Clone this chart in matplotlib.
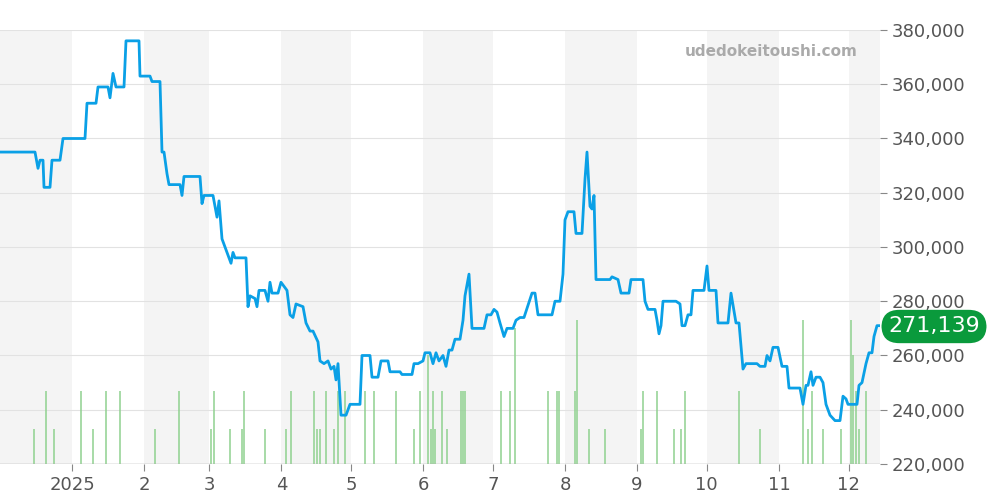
import matplotlib
matplotlib.use("Agg")
import matplotlib.pyplot as plt
import numpy as np

PX = 2.325
price_x = [0,35,38,40,43,44,50,52,60,63,85,87,96,98,108,110,113,116,124,126,139,140,150,152,160,162,164,167,169,180,182,184,200,202,204,213,217,219,222,225,228,231,233,235,246,248,250,255,257,259,265,268,270,272,278,281,287,290,293,296,303,306,310,313,318,320,324,328,331,334,336,338,341,346,350,360,362,370,372,378,381,388,390,400,402,412,414,418,423,425,430,433,436,439,443,446,449,452,455,460,463,465,469,472,484,487,491,494,497,500,504,507,513,516,520,524,532,535,538,552,555,560,563,565,568,574,576,582,585,587,590,592,594,596,610,612,618,621,629,631,643,645,648,655,657,659,661,663,676,680,682,685,688,691,693,704,707,709,716,718,728,731,736,739,743,746,757,760,765,767,770,773,778,782,787,789,800,803,806,808,811,813,816,820,823,826,830,835,840,843,846,848,857,859,862,866,869,872,874,877,880]
price_k = [335,335,329,332,332,322,322,332,332,340,340,353,353,359,359,355,364,359,359,376,376,363,363,361,361,335,335,327,323,323,319,326,326,316,319,319,311,317,303,300,297,294,298,296,296,278,282,281,278,284,284,280,287,283,283,287,284,275,274,279,278,272,269,269,265,258,257,258,255,256,251,257,238,238,242,242,260,260,252,252,258,258,254,254,253,253,257,257,258,261,261,257,261,258,260,256,262,262,266,266,273,282,290,270,270,275,275,277,276,272,267,270,270,273,274,274,283,283,275,275,280,280,290,310,313,313,305,305,325,335,315,314,319,288,288,289,288,283,283,288,288,280,277,277,273,268,271,280,280,279,271,271,275,275,284,284,293,284,284,272,272,283,272,272,255,257,257,256,256,260,258,263,263,256,256,248,248,242,249,249,254,249,252,252,250,242,238,236,236,245,244,242,242,249,250,257,261,261,267,271,271]
vol_x = [34,46,54,81,93,106,120,155,179,211,214,230,242,244,265,286,291,314,317,320,326,334,338,345,365,374,396,414,420,428,431,433,435,442,447,461,463,465,501,510,515,548,557,559,575,577,589,605,641,643,657,674,681,685,739,760,803,808,812,823,841,851,853,856,859,866]
vol_k = [233,247,233,247,233,247,247,233,247,233,247,233,233,247,233,233,247,247,233,233,247,233,247,247,247,247,247,233,247,260,233,247,233,247,233,247,247,247,247,247,270,247,247,247,247,273,233,233,233,247,247,233,233,247,247,233,273,233,247,233,233,273,260,247,233,247]
month_starts = [0,31,62,90,121,151,182,212,243,274,304,335,365]
month_labels = ["", "2025","2","3","4","5","6","7","8","9","10","11","12"]
yticks = [220,240,260,280,300,320,340,360,380]

fig = plt.figure(figsize=(10,5), dpi=100)
ax = fig.add_axes([0, 0.072, 0.88, 0.868])
xmax = 880/PX
for i in range(0, len(month_starts), 2):
    a = month_starts[i]
    b = month_starts[i+1] if i+1 < len(month_starts) else xmax
    ax.axvspan(a, b, color="#f4f4f4", zorder=0, lw=0)
for y in yticks:
    ax.axhline(y, color="#e2e2e2", lw=0.8, zorder=1)
vx = np.array(vol_x)/PX
ax.vlines(vx, 220, vol_k, color="#8fd18f", lw=1.1, zorder=2)
ax.plot(np.array(price_x)/PX, price_k, color="#0aa0e6", lw=2.0, zorder=3)
ax.set_xlim(0, xmax)
ax.set_ylim(220, 380)
ax.yaxis.tick_right()
ax.set_yticks(yticks)
ax.set_yticklabels([f"{v*1000:,}" for v in yticks], fontsize=13, color="#555555")
ax.set_xticks(month_starts[1:])
ax.set_xticklabels(month_labels[1:], fontsize=13, color="#555555")
ax.tick_params(axis="both", length=5, color="#888888")
for s in ax.spines.values():
    s.set_visible(False)
ax.axhline(220, color="#aaaaaa", lw=1, zorder=4)
ax.text(0.975, 0.95, "udedokeitoushi.com", transform=ax.transAxes, ha="right", va="center",
        fontsize=11, fontweight="bold", color="#aaaaaa")
fig.text(0.934, 0.347, "271,139", ha="center", va="center", fontsize=16, color="white",
         bbox=dict(boxstyle="round,pad=0.3,rounding_size=0.8", fc="#0a9a3c", ec="none"))
fig.savefig("out.png")
